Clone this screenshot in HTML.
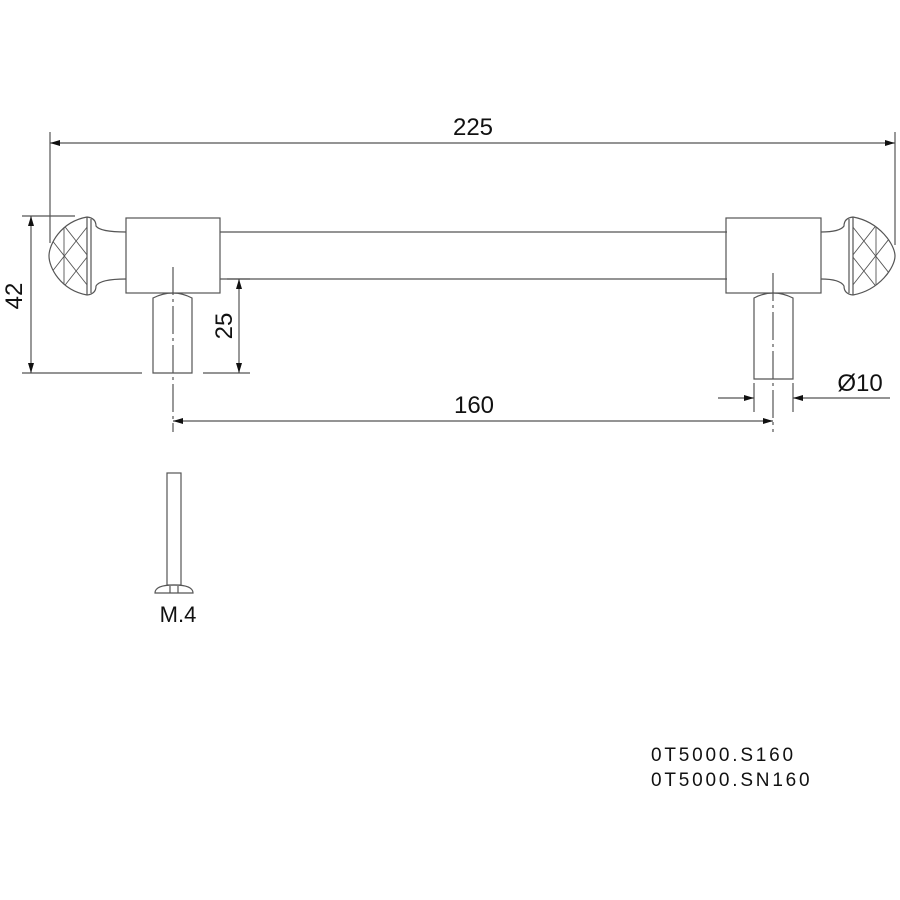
<!DOCTYPE html>
<html><head><style>body{margin:0;background:#fff}svg{display:block}text{font-family:"Liberation Sans",sans-serif;fill:#111}</style></head><body>
<svg width="900" height="900" viewBox="0 0 900 900" xmlns="http://www.w3.org/2000/svg">
<defs>
<marker id="a" viewBox="0 0 10 6" refX="10" refY="3" markerWidth="14" markerHeight="6" markerUnits="userSpaceOnUse" orient="auto-start-reverse"><path d="M0,0L10,3L0,6z" fill="#111"/></marker>
<clipPath id="cl"><path d="M87,217 C60,222 49,245 49,256 C49,267 60,290 87,295 Z"/></clipPath>
<clipPath id="cr"><path d="M853,217 C880,222 895,245 895,256 C895,267 880,290 853,295 Z"/></clipPath>
</defs>
<g stroke="#555" stroke-width="1.2" fill="none">
<line x1="50" y1="132" x2="50" y2="243"/><line x1="895" y1="132" x2="895" y2="245"/>
<line x1="50" y1="143" x2="895" y2="143" marker-start="url(#a)" marker-end="url(#a)"/>
<line x1="220" y1="232" x2="727" y2="232"/><line x1="220" y1="279" x2="727" y2="279"/>
<rect x="126" y="218" width="94" height="75"/><rect x="726" y="218" width="95" height="75"/>
<path d="M153,373V298Q173,288 192,298V373H153Z"/>
<path d="M754,379V298Q773,288 793,298V379H754Z"/>
<path d="M87,217 C60,222 49,245 49,256 C49,267 60,290 87,295"/>
<path d="M87,217 L87,295 M87,217 Q96,218 96,226 Q100,232 126,232 M87,295 Q96,294 96,286 Q100,279 126,279 M91,219 L91,293"/>
<g clip-path="url(#cl)" stroke-width="0.9">
<path d="M40,225L95,295M40,195L95,265M40,287L95,217M40,317L95,247M64,210V300"/>
</g>
<path d="M853,217 C880,222 895,245 895,256 C895,267 880,290 853,295"/>
<path d="M853,217 L853,295 M849,219 L849,293 M853,217 Q844,218 844,226 Q840,232 821,232 M853,295 Q844,294 844,286 Q840,279 821,279"/>
<g clip-path="url(#cr)" stroke-width="0.9">
<path d="M900,225L845,295M900,195L845,265M900,287L845,217M900,317L845,247M876,210V300"/>
</g>
<line x1="173" y1="267" x2="173" y2="432" stroke-dasharray="28,4,3,4"/>
<line x1="773" y1="273" x2="773" y2="432" stroke-dasharray="28,4,3,4"/>
<line x1="22" y1="216" x2="75" y2="216"/><line x1="22" y1="373" x2="142" y2="373"/>
<line x1="31" y1="216" x2="31" y2="373" marker-start="url(#a)" marker-end="url(#a)"/>
<line x1="227" y1="279" x2="250" y2="279"/><line x1="203" y1="373" x2="250" y2="373"/>
<line x1="239" y1="279" x2="239" y2="373" marker-start="url(#a)" marker-end="url(#a)"/>
<line x1="173" y1="421" x2="773" y2="421" marker-start="url(#a)" marker-end="url(#a)"/>
<line x1="754" y1="383" x2="754" y2="412"/><line x1="793" y1="383" x2="793" y2="412"/>
<line x1="718" y1="398" x2="754" y2="398" marker-end="url(#a)"/>
<line x1="890" y1="398" x2="793" y2="398" marker-end="url(#a)"/>
<rect x="167" y="473" width="14" height="112"/>
<path d="M155,593 Q155,585 174,585 Q193,585 193,593 Z M170,586V593M178,586V593"/>
</g>
<text x="473" y="135" font-size="24" text-anchor="middle">225</text>
<text x="474" y="413" font-size="24" text-anchor="middle">160</text>
<text x="860" y="391" font-size="24" text-anchor="middle">Ø10</text>
<text transform="translate(22,296) rotate(-90)" font-size="24" text-anchor="middle">42</text>
<text transform="translate(232,326) rotate(-90)" font-size="24" text-anchor="middle">25</text>
<text x="178" y="622" font-size="22" text-anchor="middle">M.4</text>
<text x="651" y="761" font-size="19" letter-spacing="2.8">0T5000.S160</text>
<text x="651" y="786" font-size="19" letter-spacing="2.8">0T5000.SN160</text>
</svg>
</body></html>
